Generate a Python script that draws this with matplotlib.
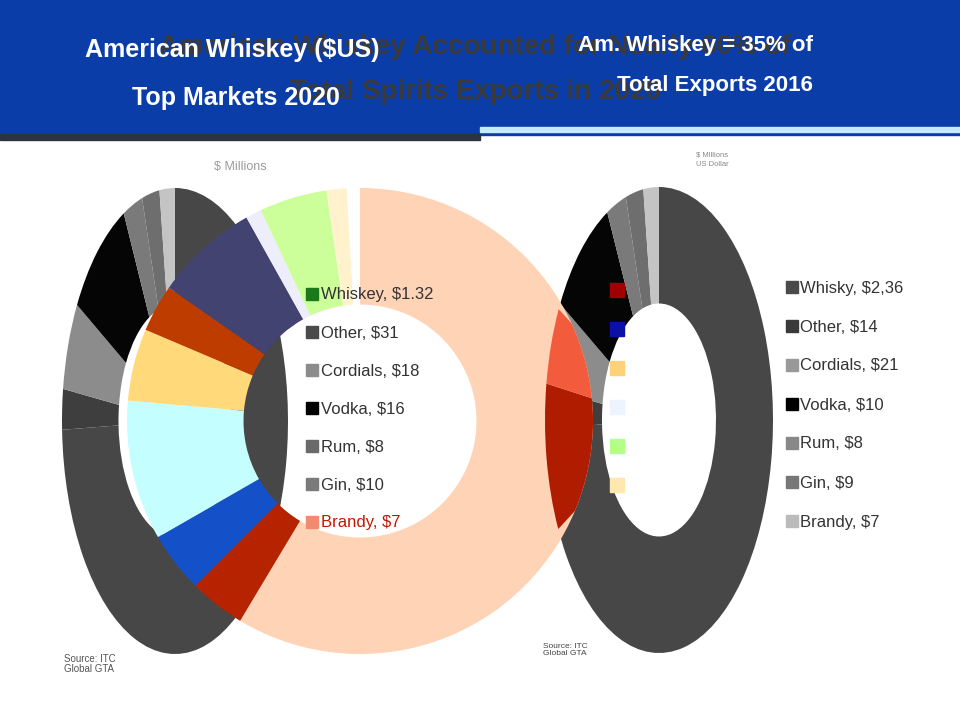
#! python3
# whiskeyDonuts.py - redraw of the american whiskey export donut slide

import matplotlib
matplotlib.use('Agg')
import matplotlib.pyplot as plt
from matplotlib.patches import Rectangle, Circle

plt.rcParams['font.family'] = ['Liberation Sans', 'DejaVu Sans']

W, H = 960, 720

# colour donut: top markets, share of 2020 exports (%)
market_shares = [58.6, 3.9, 4.2, 9.7, 5.0, 3.3, 7.2, 1.1, 4.7, 1.4, 0.9]
market_colors = ['#ffd3b6', '#b52300', '#1450c8', '#c4feff', '#ffd97a', '#bf3c00',
                 '#434372', '#eeeefa', '#ccff99', '#fff2cc', '#ffffff']

# grey donuts: spirits categories, share of total exports (%)
spirit_shares = [74.4, 2.8, 6.1, 9.2, 2.8, 2.5, 2.2]
spirit_colors = ['#474747', '#3e3e3e', '#8c8c8c', '#050505', '#7a7a7a', '#6e6e6e', '#c4c4c4']

# second colour donut, only the two red slices show through
hidden_shares = [67.25, 10.25, 5.39, 17.11]
hidden_colors = ['none', '#b01c00', '#f25c3c', 'none']

left_labels = ['Whiskey, $1.32', 'Other, $31', 'Cordials, $18', 'Vodka, $16',
               'Rum, $8', 'Gin, $10', 'Brandy, $7']
left_swatches = ['#1a7a1a', '#4a4a4a', '#8c8c8c', '#000000', '#6a6a6a', '#7a7a7a', '#f08a70']
left_text_colors = ['#333333'] * 6 + ['#c01800']

right_labels = ['Whisky, $2,36', 'Other, $14', 'Cordials, $21', 'Vodka, $10',
                'Rum, $8', 'Gin, $9', 'Brandy, $7']
right_swatches = ['#4a4a4a', '#3a3a3a', '#999999', '#000000', '#888888', '#777777', '#bbbbbb']

hidden_swatches = ['#a00000', '#0a10a8', '#ffd27a', '#eef4ff', '#b4ff88', '#ffe7b0']

title_lines = ['American Whiskey Accounted for Nearly 60% of',
               'Total Spirits Exports in 2020']
left_sub = ['American Whiskey ($US)', 'Top Markets 2020']
right_sub = ['Am. Whiskey = 35% of', 'Total Exports 2016']


def box(x, y, w, h):
    """Pixel box (top-left origin) -> figure fraction rect."""
    return [x / W, 1 - (y + h) / H, w / W, h / H]


def donut(cx, cy, rx, ry, shares, colors, width=0.5):
    ax = fig.add_axes(box(cx - rx, cy - ry, 2 * rx, 2 * ry))
    wedges, _ = ax.pie(shares, colors=colors, startangle=90, counterclock=False,
                       radius=1, wedgeprops=dict(width=width, linewidth=0))
    ax.set_aspect('auto')  # let the axes box squash the ring
    ax.set_xlim(-1, 1)
    ax.set_ylim(-1, 1)
    ax.set_axis_off()
    return ax, wedges


fig = plt.figure(figsize=(9.6, 7.2), dpi=100)

# header band
bg = fig.add_axes([0, 0, 1, 1])
bg.set_xlim(0, W)
bg.set_ylim(H, 0)
bg.set_axis_off()
bg.add_patch(Rectangle((0, 0), W, 135, color='#0b3da8'))
bg.add_patch(Rectangle((0, 134), 480, 6, color='#2d3340'))
bg.add_patch(Rectangle((480, 127), 480, 5, color='#c6ebff'))

for i, line in enumerate(title_lines):
    bg.text(475, 47 + i * 45, line, ha='center', va='center', fontsize=20,
            fontweight='bold', color='#3a3a3a')
for i, line in enumerate(left_sub):
    bg.text(232 + i * 4, 50 + i * 48, line, ha='center', va='center', fontsize=18,
            fontweight='bold', color='white')
for i, line in enumerate(right_sub):
    bg.text(695 + i * 20, 45 + i * 40, line, ha='center', va='center', fontsize=16,
            fontweight='bold', color='white')

# grey donuts sit underneath
donut(175, 421, 113, 233, spirit_shares, spirit_colors)
donut(659, 420, 114, 233, spirit_shares, spirit_colors)

# colour donut on top, the hole lets the grey ring show
ax_col, _ = donut(360, 421, 233, 233, market_shares, market_colors)

# red slices of the other colour donut, only inside the big ring
ax_hid, hid_wedges = donut(659, 420, 114, 233, hidden_shares, hidden_colors, width=1)
ring = Circle((0, 0), 1, transform=ax_col.transData)
for w in hid_wedges:
    w.set_clip_path(ring)
    w.set_clip_on(True)  # pie turns clipping off by default

# legends and notes on an overlay
top = fig.add_axes([0, 0, 1, 1])
top.set_xlim(0, W)
top.set_ylim(H, 0)
top.set_axis_off()
top.patch.set_alpha(0)

for i, (lab, sw, tc) in enumerate(zip(left_labels, left_swatches, left_text_colors)):
    y = 294 + i * 38
    top.add_patch(Rectangle((306, y - 6), 12, 12, color=sw))
    top.text(321, y + 1, lab, va='center', fontsize=12, color=tc)

for i, (lab, sw) in enumerate(zip(right_labels, right_swatches)):
    y = 287 + i * 39
    top.add_patch(Rectangle((786, y - 6), 12, 12, color=sw))
    top.text(800, y + 1, lab, va='center', fontsize=12, color='#333333')

for i, sw in enumerate(hidden_swatches):
    y = 290 + i * 39
    top.add_patch(Rectangle((610, y - 7), 14, 14, color=sw))

top.text(240, 167, '$ Millions', ha='center', va='center', fontsize=9, color='#9a9a9a')
top.text(712, 160, '$ Millions\nUS Dollar', ha='center', va='center', fontsize=5.5,
         color='#888888', linespacing=1.6)
top.text(64, 664, 'Source: ITC\nGlobal GTA', va='center', fontsize=7,
         color='#555555', linespacing=1.0)
top.text(543, 650, 'Source: ITC\nGlobal GTA', va='center', fontsize=6,
         color='#444444', linespacing=1.0)

plt.savefig('out.png', dpi=100)
